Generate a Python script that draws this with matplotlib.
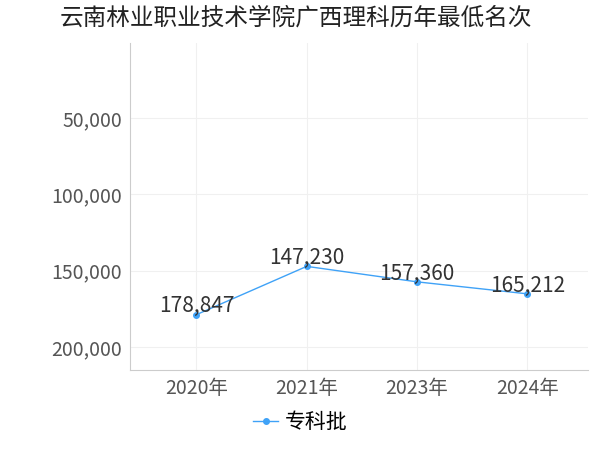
import matplotlib
matplotlib.use("Agg")
import matplotlib.pyplot as plt

plt.rcParams['font.family'] = ['Noto Sans CJK SC', 'DejaVu Sans']

years = ["2020年", "2021年", "2023年", "2024年"]
ranks = [178847, 147230, 157360, 165212]
series_name = "专科批"
title = "云南林业职业技术学院广西理科历年最低名次"

fig = plt.figure(figsize=(6, 4.5), dpi=100)
ax = fig.add_axes([0.217, 0.178, 0.763, 0.727])
x = list(range(len(years)))
color = "#3fa2f7"
ax.plot(x, ranks, color=color, lw=1, marker="o", ms=4, label=series_name)
for xi, v in zip(x, ranks):
    ax.annotate(f"{v:,}", (xi, v), textcoords="offset points", xytext=(0, -2),
                ha="center", va="bottom", fontsize=15, color="#333333")

ax.set_ylim(215000, 850)
ax.set_yticks([50000, 100000, 150000, 200000])
ax.set_yticklabels([f"{t:,}" for t in [50000, 100000, 150000, 200000]])
ax.set_xlim(-0.6, 3.55)
ax.set_xticks(x)
ax.set_xticklabels(years)
ax.tick_params(labelsize=14, colors="#555555", length=0, pad=6)
ax.grid(True, color="#f0f0f0", lw=0.8)
for s in ["top", "right"]:
    ax.spines[s].set_visible(False)
for s in ["left", "bottom"]:
    ax.spines[s].set_color("#cccccc")

fig.text(0.1, 0.96, title, fontsize=17, color="#222222", va="center")
fig.legend(loc="lower center", bbox_to_anchor=(0.5, -0.005), frameon=False,
           fontsize=15, handlelength=1.2, handletextpad=0.3)
fig.savefig("out.png", dpi=100)
